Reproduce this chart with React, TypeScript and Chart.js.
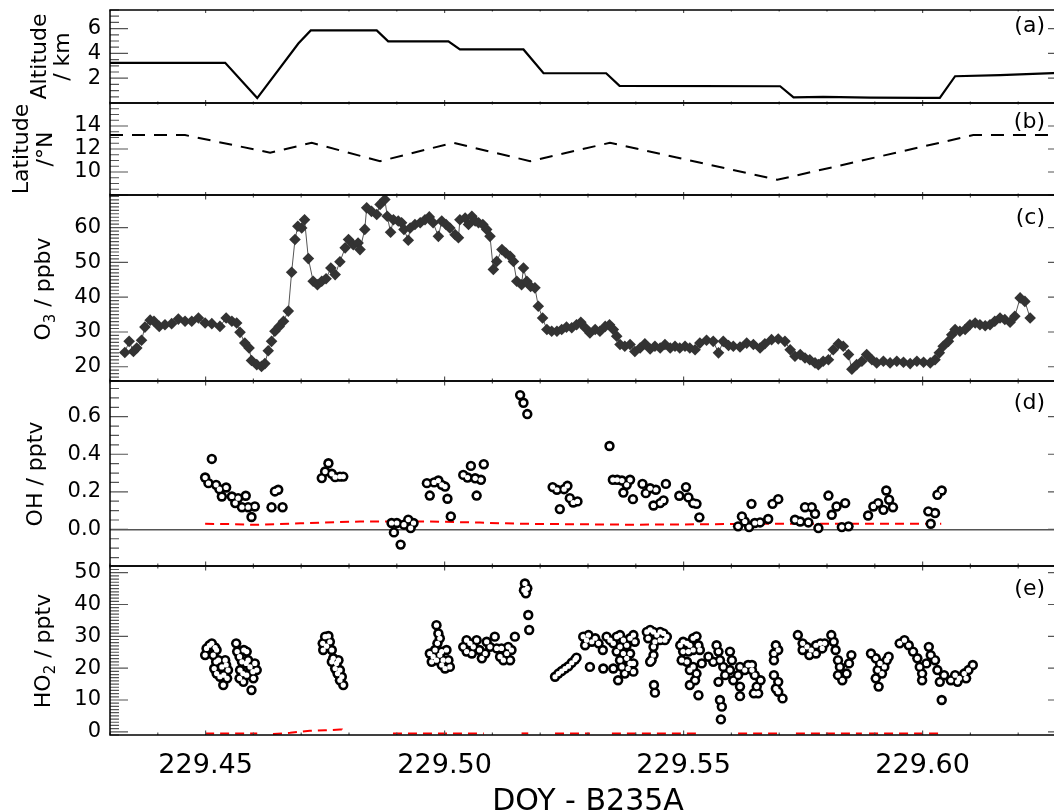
import { useEffect, useRef } from 'react';
import { Chart, registerables } from 'chart.js';

Chart.register(...registerables);

const FONT = "'DejaVu Sans', 'Liberation Sans', sans-serif";
const PAGE_W = 1054;
const PAGE_H = 812;
const CANVAS_W = 1080;
const PLOT_LEFT = 110;
const PLOT_RIGHT = 1066;

// Shared time axis (day of year)
const DOY_MIN = 229.43;
const DOY_MAX = 229.63;
const DOY_MINOR = 0.01;
const doyTickLabels = [229.45, 229.5, 229.55, 229.6];
const xAxisTitle = 'DOY - B235A';

// (a) aircraft altitude, km
const altDoy = [229.4300, 229.4541, 229.4608, 229.4694, 229.4720, 229.4858, 229.4882, 229.5008, 229.5032, 229.5165, 229.5207, 229.5338, 229.5366, 229.5702, 229.5730, 229.5792, 229.5827, 229.5890, 229.6001, 229.6036, 229.6068, 229.6162, 229.6300];
const altKm = [3.24, 3.24, 0.40, 4.80, 5.85, 5.85, 4.97, 4.97, 4.32, 4.32, 2.40, 2.40, 1.38, 1.35, 0.46, 0.50, 0.48, 0.43, 0.42, 0.42, 2.16, 2.25, 2.45];

// (b) latitude, degrees north
const latDoy = [229.4300, 229.4457, 229.4635, 229.4722, 229.4865, 229.5018, 229.5179, 229.5346, 229.5696, 229.6106, 229.6300];
const latDeg = [13.21, 13.21, 11.68, 12.54, 10.94, 12.54, 10.94, 12.54, 9.32, 13.21, 13.21];

// (c) ozone, ppbv  [doy, value]
const o3Series = [
  [229.4331, 24.1], [229.4340, 27.3], [229.4349, 24.4], [229.4356, 25.4], [229.4366, 27.6], [229.4373, 31.4], [229.4384, 33.4], [229.4392, 33.1],
  [229.4403, 31.6], [229.4415, 32.1], [229.4429, 32.4], [229.4443, 33.7], [229.4457, 33.1], [229.4471, 33.1], [229.4485, 34.0], [229.4499, 32.6],
  [229.4513, 32.4], [229.4530, 31.6], [229.4543, 34.0], [229.4555, 33.1], [229.4565, 32.6], [229.4572, 29.9], [229.4582, 26.8], [229.4591, 25.4],
  [229.4596, 21.8], [229.4607, 20.6], [229.4617, 20.1], [229.4624, 20.9], [229.4631, 24.6], [229.4638, 27.3], [229.4645, 30.2], [229.4654, 31.6],
  [229.4663, 33.1], [229.4673, 36.0], [229.4680, 47.2], [229.4687, 56.6], [229.4693, 60.4], [229.4701, 59.9], [229.4707, 62.3], [229.4715, 51.1],
  [229.4725, 44.6], [229.4734, 43.6], [229.4743, 44.6], [229.4752, 45.3], [229.4762, 48.4], [229.4771, 46.5], [229.4781, 50.2], [229.4792, 54.2],
  [229.4799, 56.6], [229.4809, 55.1], [229.4819, 55.6], [229.4823, 53.7], [229.4833, 59.5], [229.4837, 65.7], [229.4847, 64.7], [229.4858, 63.8],
  [229.4865, 66.7], [229.4875, 68.1], [229.4880, 63.3], [229.4887, 58.7], [229.4893, 62.3], [229.4903, 61.9], [229.4910, 61.4], [229.4915, 59.5],
  [229.4924, 56.4], [229.4928, 59.9], [229.4938, 60.9], [229.4949, 61.4], [229.4959, 62.3], [229.4968, 63.1], [229.4976, 61.4], [229.4987, 57.5],
  [229.4994, 61.9], [229.5003, 60.9], [229.5011, 59.9], [229.5022, 58.0], [229.5029, 57.1], [229.5032, 62.3], [229.5043, 62.8], [229.5050, 60.9],
  [229.5057, 63.3], [229.5064, 61.9], [229.5071, 61.4], [229.5080, 60.9], [229.5088, 59.5], [229.5095, 57.5], [229.5102, 48.0], [229.5109, 50.3],
  [229.5120, 53.7], [229.5128, 52.7], [229.5137, 51.8], [229.5144, 50.3], [229.5151, 44.6], [229.5161, 43.6], [229.5165, 48.4], [229.5172, 44.6],
  [229.5180, 43.1], [229.5189, 42.7], [229.5196, 37.4], [229.5205, 34.0], [229.5214, 30.7], [229.5224, 30.2], [229.5235, 30.2], [229.5245, 30.7],
  [229.5255, 31.4], [229.5266, 31.2], [229.5276, 32.1], [229.5285, 32.8], [229.5294, 31.2], [229.5304, 29.7], [229.5315, 30.7], [229.5325, 30.2],
  [229.5336, 31.6], [229.5345, 32.1], [229.5353, 30.7], [229.5360, 28.8], [229.5367, 26.4], [229.5377, 25.9], [229.5388, 26.4], [229.5398, 24.4],
  [229.5409, 25.4], [229.5419, 26.6], [229.5430, 25.1], [229.5440, 25.9], [229.5451, 25.4], [229.5461, 26.4], [229.5472, 25.4], [229.5482, 25.9],
  [229.5492, 25.4], [229.5503, 25.9], [229.5513, 25.4], [229.5524, 24.9], [229.5534, 26.8], [229.5548, 27.6], [229.5562, 27.3], [229.5573, 24.0],
  [229.5583, 27.3], [229.5594, 26.1], [229.5604, 25.9], [229.5618, 25.7], [229.5632, 26.8], [229.5646, 26.4], [229.5660, 25.4], [229.5670, 26.6],
  [229.5684, 27.8], [229.5698, 28.0], [229.5712, 27.3], [229.5723, 24.9], [229.5733, 23.0], [229.5744, 23.5], [229.5754, 22.5], [229.5764, 22.0],
  [229.5775, 21.1], [229.5782, 20.6], [229.5792, 21.6], [229.5803, 22.0], [229.5813, 24.9], [229.5824, 26.6], [229.5834, 25.9], [229.5845, 23.5],
  [229.5852, 19.3], [229.5862, 20.6], [229.5873, 21.6], [229.5883, 23.5], [229.5894, 22.0], [229.5904, 21.1], [229.5918, 21.6], [229.5932, 21.1],
  [229.5946, 21.6], [229.5960, 21.3], [229.5974, 20.9], [229.5988, 21.6], [229.6002, 21.3], [229.6016, 21.1], [229.6026, 22.0], [229.6035, 24.0],
  [229.6043, 25.9], [229.6054, 27.3], [229.6061, 29.2], [229.6068, 30.7], [229.6078, 30.2], [229.6089, 30.7], [229.6099, 32.1], [229.6110, 32.6],
  [229.6120, 32.1], [229.6131, 31.8], [229.6141, 32.1], [229.6151, 33.1], [229.6162, 34.0], [229.6172, 33.6], [229.6183, 32.8], [229.6193, 34.5],
  [229.6204, 39.8], [229.6214, 38.8], [229.6225, 34.0],
];

// (d) OH, pptv  [doy, value]
const ohSeries = [
  [229.4499, 0.276], [229.4506, 0.246], [229.4513, 0.375], [229.4522, 0.237], [229.4529, 0.214], [229.4534, 0.175], [229.4543, 0.223], [229.4555, 0.175],
  [229.4562, 0.140], [229.4568, 0.166], [229.4576, 0.118], [229.4584, 0.179], [229.4589, 0.118], [229.4596, 0.066], [229.4603, 0.122],
  [229.4638, 0.118], [229.4645, 0.202], [229.4652, 0.211], [229.4661, 0.118],
  [229.4743, 0.273], [229.4750, 0.308], [229.4757, 0.352], [229.4764, 0.296], [229.4771, 0.278], [229.4781, 0.281], [229.4788, 0.281],
  [229.4889, 0.034], [229.4894, -0.016], [229.4900, 0.034], [229.4908, -0.081], [229.4915, 0.025], [229.4924, 0.052], [229.4929, 0.007], [229.4935, 0.034],
  [229.4963, 0.246], [229.4969, 0.180], [229.4978, 0.250], [229.4987, 0.260], [229.4994, 0.237], [229.5001, 0.228], [229.5006, 0.163], [229.5013, 0.069],
  [229.5039, 0.290], [229.5048, 0.276], [229.5055, 0.338], [229.5064, 0.272], [229.5067, 0.180], [229.5076, 0.264], [229.5082, 0.347],
  [229.5158, 0.715], [229.5165, 0.674], [229.5173, 0.614],
  [229.5226, 0.225], [229.5235, 0.211], [229.5241, 0.108], [229.5250, 0.214], [229.5257, 0.232], [229.5262, 0.166], [229.5269, 0.143], [229.5278, 0.149],
  [229.5345, 0.444], [229.5352, 0.264], [229.5361, 0.264], [229.5371, 0.260], [229.5374, 0.196], [229.5381, 0.237], [229.5388, 0.264], [229.5394, 0.161],
  [229.5414, 0.242], [229.5421, 0.193], [229.5430, 0.219], [229.5437, 0.127], [229.5442, 0.211], [229.5451, 0.140], [229.5458, 0.154], [229.5463, 0.242],
  [229.5491, 0.179], [229.5505, 0.225], [229.5510, 0.170], [229.5520, 0.140], [229.5527, 0.136], [229.5533, 0.064],
  [229.5614, 0.016], [229.5622, 0.069], [229.5628, 0.042], [229.5637, 0.012], [229.5642, 0.136], [229.5649, 0.034], [229.5660, 0.037], [229.5677, 0.055],
  [229.5686, 0.136], [229.5698, 0.161],
  [229.5733, 0.051], [229.5744, 0.042], [229.5754, 0.118], [229.5761, 0.037], [229.5768, 0.118], [229.5775, 0.083], [229.5782, 0.007],
  [229.5803, 0.180], [229.5810, 0.078], [229.5820, 0.122], [229.5831, 0.012], [229.5838, 0.140], [229.5845, 0.016],
  [229.5886, 0.074], [229.5897, 0.122], [229.5907, 0.140], [229.5918, 0.104], [229.5924, 0.207], [229.5930, 0.158], [229.5938, 0.118],
  [229.6012, 0.096], [229.6017, 0.030], [229.6026, 0.087], [229.6031, 0.184], [229.6040, 0.207],
];

// (d) OH detection limit, pptv
const ohLimit = [
  [229.4499, 0.030], [229.4551, 0.028], [229.4603, 0.024], [229.4698, 0.032], [229.4823, 0.042], [229.4969, 0.042], [229.5074, 0.036],
  [229.5158, 0.030], [229.5241, 0.028], [229.5388, 0.025], [229.5534, 0.027], [229.5660, 0.030], [229.6039, 0.030],
];

// (e) HO2, pptv  [doy, value]
const ho2Series = [
  [229.4499, 24.1], [229.4502, 26.2], [229.4508, 27.2], [229.4513, 27.8], [229.4516, 24.1], [229.4518, 19.9], [229.4520, 26.5], [229.4522, 22.0],
  [229.4523, 25.7], [229.4523, 18.3], [229.4527, 22.5], [229.4530, 17.3], [229.4534, 20.4], [229.4537, 14.7], [229.4538, 17.8], [229.4541, 22.5],
  [229.4543, 21.0], [229.4545, 16.8], [229.4547, 19.4],
  [229.4564, 27.8], [229.4566, 25.2], [229.4571, 23.6], [229.4571, 16.8], [229.4572, 19.4], [229.4576, 22.0], [229.4578, 18.3], [229.4579, 15.7],
  [229.4580, 25.7], [229.4585, 21.5], [229.4586, 25.2], [229.4586, 17.8], [229.4589, 22.5], [229.4593, 20.4], [229.4596, 13.1], [229.4599, 18.9],
  [229.4600, 16.8], [229.4603, 21.5], [229.4607, 19.4],
  [229.4745, 27.8], [229.4746, 25.7], [229.4750, 29.9], [229.4753, 26.9], [229.4757, 30.1], [229.4760, 28.3], [229.4764, 25.7], [229.4764, 22.0],
  [229.4767, 23.1], [229.4771, 19.9], [229.4774, 21.5], [229.4776, 18.3], [229.4778, 22.5], [229.4781, 19.4], [229.4781, 16.2], [229.4785, 17.3],
  [229.4788, 14.7],
  [229.4969, 24.6], [229.4973, 22.0], [229.4976, 23.6], [229.4980, 25.7], [229.4983, 33.5], [229.4983, 22.5], [229.4985, 27.8], [229.4987, 30.9],
  [229.4990, 29.4], [229.4990, 24.1], [229.4994, 25.2], [229.4994, 21.0], [229.4997, 22.5], [229.5001, 19.9], [229.5004, 25.7], [229.5008, 22.5],
  [229.5011, 20.4],
  [229.5039, 26.7], [229.5046, 28.8], [229.5046, 25.2], [229.5053, 27.8], [229.5057, 24.6], [229.5060, 26.7], [229.5067, 28.8], [229.5073, 25.7],
  [229.5078, 23.1], [229.5085, 24.6], [229.5088, 28.3], [229.5095, 26.7], [229.5105, 29.9], [229.5109, 26.2], [229.5116, 23.6], [229.5119, 26.2],
  [229.5123, 22.5], [229.5130, 24.6], [229.5133, 26.7], [229.5137, 22.5], [229.5140, 25.7], [229.5147, 29.9],
  [229.5166, 44.5], [229.5168, 46.6], [229.5170, 43.5], [229.5173, 45.1], [229.5175, 36.7], [229.5177, 32.0],
  [229.5231, 17.3], [229.5238, 18.3], [229.5245, 19.1], [229.5252, 19.9], [229.5259, 20.6], [229.5266, 21.7], [229.5273, 22.7], [229.5276, 23.3],
  [229.5290, 29.9], [229.5294, 27.2], [229.5297, 28.8], [229.5301, 30.4], [229.5304, 20.4], [229.5308, 28.3], [229.5315, 29.4], [229.5322, 27.8],
  [229.5331, 25.7], [229.5332, 19.9], [229.5339, 29.9], [229.5346, 28.8], [229.5353, 27.8], [229.5353, 19.9], [229.5360, 29.9], [229.5360, 25.2],
  [229.5363, 16.2], [229.5367, 30.4], [229.5367, 26.7], [229.5367, 22.5], [229.5371, 20.4], [229.5374, 28.8], [229.5374, 24.6], [229.5377, 18.3],
  [229.5381, 27.2], [229.5381, 23.1], [229.5384, 19.9], [229.5388, 29.4], [229.5388, 24.6], [229.5388, 21.5], [229.5395, 30.4], [229.5395, 21.5],
  [229.5395, 18.9], [229.5398, 28.3],
  [229.5423, 31.4], [229.5426, 29.4], [229.5430, 32.0], [229.5430, 22.0], [229.5433, 22.5], [229.5437, 31.4], [229.5437, 26.7], [229.5437, 24.1],
  [229.5438, 14.7], [229.5440, 28.3], [229.5440, 12.3], [229.5444, 30.4], [229.5451, 31.4], [229.5451, 28.8], [229.5458, 30.9], [229.5461, 28.8],
  [229.5465, 29.9],
  [229.5493, 27.2], [229.5496, 22.5], [229.5499, 28.3], [229.5499, 25.2], [229.5507, 27.8], [229.5507, 22.0], [229.5510, 25.2], [229.5513, 27.2],
  [229.5513, 19.4], [229.5513, 14.7], [229.5520, 29.4], [229.5520, 25.7], [229.5520, 20.4], [229.5524, 16.2], [229.5527, 30.0], [229.5527, 18.3],
  [229.5531, 27.2], [229.5531, 11.5], [229.5534, 25.7], [229.5538, 21.5],
  [229.5552, 23.6], [229.5562, 22.0], [229.5569, 27.2], [229.5573, 25.2], [229.5573, 15.7], [229.5576, 22.5], [229.5576, 10.0], [229.5578, 3.9],
  [229.5580, 7.9], [229.5583, 20.4], [229.5587, 17.8], [229.5597, 25.2], [229.5597, 19.4], [229.5601, 22.5], [229.5604, 16.2], [229.5614, 17.8],
  [229.5618, 20.4], [229.5618, 14.2], [229.5618, 11.2], [229.5628, 19.4], [229.5635, 21.0], [229.5643, 19.4], [229.5643, 21.0], [229.5647, 12.1],
  [229.5649, 17.8], [229.5653, 14.2], [229.5656, 12.1], [229.5661, 16.2],
  [229.5689, 24.6], [229.5689, 22.5], [229.5689, 17.8], [229.5693, 27.2], [229.5693, 13.6], [229.5698, 25.7], [229.5698, 15.7], [229.5698, 12.6],
  [229.5707, 10.5],
  [229.5739, 30.4], [229.5749, 27.8], [229.5749, 25.7], [229.5758, 26.7], [229.5763, 24.1], [229.5767, 25.7], [229.5777, 27.2], [229.5777, 24.6],
  [229.5786, 27.8], [229.5790, 26.2], [229.5795, 27.8],
  [229.5809, 30.4], [229.5814, 28.3], [229.5818, 25.7], [229.5823, 22.5], [229.5823, 17.8], [229.5827, 20.4], [229.5832, 16.2], [229.5841, 18.3],
  [229.5846, 21.5], [229.5851, 24.1],
  [229.5892, 24.6], [229.5902, 23.1], [229.5902, 16.8], [229.5906, 19.4], [229.5908, 14.2], [229.5911, 21.5], [229.5915, 18.3], [229.5920, 20.4],
  [229.5925, 22.5], [229.5929, 23.6],
  [229.5952, 27.8], [229.5962, 28.8], [229.5971, 27.2], [229.5980, 25.2], [229.5989, 23.1], [229.5994, 20.4], [229.5999, 18.3], [229.5999, 16.2],
  [229.6008, 21.5], [229.6013, 26.7], [229.6017, 24.1], [229.6026, 22.5], [229.6031, 19.4], [229.6036, 15.7], [229.6040, 10.0], [229.6045, 17.8],
  [229.6059, 16.2], [229.6068, 17.8], [229.6073, 15.7], [229.6077, 16.8], [229.6087, 18.3], [229.6091, 16.8], [229.6096, 19.4], [229.6105, 21.0],
];

// (e) HO2 detection limit, pptv, one list per measurement segment
const ho2LimitSegments = [
  [[229.4499, -0.5], [229.4608, -0.5]],
  [[229.4641, -0.7], [229.4677, -0.3], [229.4718, 0.3], [229.4750, 0.5], [229.4781, 0.7], [229.4785, 0.7], [229.4785, -0.6]],
  [[229.4892, -0.5], [229.5082, -0.5]],
  [[229.5161, -0.5], [229.5175, -0.5]],
  [[229.5231, -0.5], [229.5304, -0.5]],
  [[229.5350, -0.5], [229.5526, -0.5]],
  [[229.5614, -0.5], [229.5698, -0.5]],
  [[229.5735, -0.5], [229.5873, -0.5]],
  [[229.5888, -0.5], [229.6041, -0.5]],
];

type Part = { text: string; sub?: boolean };
type TitleLine = { parts: Part[]; x: number };
type PanelSpec = {
  id: string;
  top: number;
  bottom: number;
  yMin: number;
  yMax: number;
  yMajor: number;
  yMinor: number;
  yTicks: number[];
  yDigits: number;
  title: TitleLine[];
  titleY: number;
  tag: string;
  tagY: number;
  xTickLen: [number, number];
  zeroLine?: boolean;
  showX?: boolean;
};

const panels: PanelSpec[] = [
  {
    id: 'a', top: 10, bottom: 103, yMin: 0, yMax: 7.5, yMajor: 2, yMinor: 0.5, yTicks: [2, 4, 6], yDigits: 0,
    title: [{ parts: [{ text: 'Altitude' }], x: 46 }, { parts: [{ text: '/ km' }], x: 69 }], titleY: 56.5,
    tag: '(a)', tagY: 26, xTickLen: [3, 1.5],
  },
  {
    id: 'b', top: 103, bottom: 195, yMin: 8, yMax: 16, yMajor: 2, yMinor: 0.5, yTicks: [10, 12, 14], yDigits: 0,
    title: [{ parts: [{ text: 'Latitude' }], x: 28 }, { parts: [{ text: '/°N' }], x: 52 }], titleY: 149,
    tag: '(b)', tagY: 122.5, xTickLen: [3, 1.5],
  },
  {
    id: 'c', top: 195, bottom: 381, yMin: 15.9, yMax: 69.4, yMajor: 10, yMinor: 1, yTicks: [20, 30, 40, 50, 60], yDigits: 0,
    title: [{ parts: [{ text: 'O' }, { text: '3', sub: true }, { text: ' / ppbv' }], x: 50 }], titleY: 289,
    tag: '(c)', tagY: 218.5, xTickLen: [4.5, 2.5],
  },
  {
    id: 'd', top: 381, bottom: 566, yMin: -0.195, yMax: 0.79, yMajor: 0.2, yMinor: 0.05, yTicks: [0, 0.2, 0.4, 0.6], yDigits: 1,
    title: [{ parts: [{ text: 'OH / pptv' }], x: 42 }], titleY: 474,
    tag: '(d)', tagY: 403.5, xTickLen: [4.5, 2.5], zeroLine: true,
  },
  {
    id: 'e', top: 566, bottom: 735, yMin: -1, yMax: 52.1, yMajor: 10, yMinor: 1, yTicks: [0, 10, 20, 30, 40, 50], yDigits: 0,
    title: [{ parts: [{ text: 'HO' }, { text: '2', sub: true }, { text: ' / pptv' }], x: 50 }], titleY: 651,
    tag: '(e)', tagY: 589, xTickLen: [4.5, 2.5], showX: true,
  },
];

const PAD = 24;

const toPoints = (rows: number[][]) => rows.map(([x, y]) => ({ x, y }));

function datasetsFor(id: string): any[] {
  // open circles: a black disc with a white centre drawn over all discs
  const ringOuter = (rows: number[][]) => ({
    data: toPoints(rows), showLine: false, pointStyle: 'circle', pointRadius: 5.2,
    pointBackgroundColor: '#000', pointBorderWidth: 0, order: 2,
  });
  const ringInner = (rows: number[][]) => ({
    data: toPoints(rows), showLine: false, pointStyle: 'circle', pointRadius: 2.6,
    pointBackgroundColor: '#fff', pointBorderWidth: 0, order: 1,
  });
  const limitLine = (rows: number[][]) => ({
    data: toPoints(rows), showLine: true, borderColor: '#ff0000', borderWidth: 2,
    borderDash: [9, 6], pointRadius: 0, order: 3,
  });
  switch (id) {
    case 'a':
      return [{
        data: altDoy.map((x, i) => ({ x, y: altKm[i] })), showLine: true,
        borderColor: '#000', borderWidth: 2.2, pointRadius: 0,
      }];
    case 'b':
      return [{
        data: latDoy.map((x, i) => ({ x, y: latDeg[i] })), showLine: true,
        borderColor: '#000', borderWidth: 2, borderDash: [13, 9], pointRadius: 0,
      }];
    case 'c':
      return [{
        data: toPoints(o3Series), showLine: true, borderColor: '#555', borderWidth: 1,
        pointStyle: 'rectRot', pointRadius: 5.8, pointBackgroundColor: '#333',
        pointBorderColor: '#333', pointBorderWidth: 0,
      }];
    case 'd':
      return [limitLine(ohLimit), ringOuter(ohSeries), ringInner(ohSeries)];
    default:
      return [...ho2LimitSegments.map(limitLine), ringOuter(ho2Series), ringInner(ho2Series)];
  }
}

function drawRotatedLine(ctx: CanvasRenderingContext2D, line: TitleLine, yCenter: number) {
  ctx.save();
  ctx.translate(line.x, yCenter);
  ctx.rotate(-Math.PI / 2);
  ctx.textAlign = 'left';
  ctx.textBaseline = 'alphabetic';
  ctx.fillStyle = '#000';
  const fontOf = (p: Part) => `${p.sub ? 15 : 22}px ${FONT}`;
  const widths = line.parts.map((p) => {
    ctx.font = fontOf(p);
    return ctx.measureText(p.text).width;
  });
  let x = -widths.reduce((s, w) => s + w, 0) / 2;
  line.parts.forEach((p, i) => {
    ctx.font = fontOf(p);
    ctx.fillText(p.text, x, p.sub ? 5 : 0);
    x += widths[i];
  });
  ctx.restore();
}

function framePlugin(spec: PanelSpec, canvasTop: number) {
  return {
    id: 'panelFrame',
    afterDraw(chart: any) {
      const { ctx, chartArea } = chart;
      const { left, right, top, bottom } = chartArea;
      const ys = chart.scales.y;
      const xs = chart.scales.x;
      ctx.save();

      // inward tick marks on all four sides
      ctx.strokeStyle = '#555';
      ctx.lineWidth = 1.2;
      ctx.beginPath();
      const ratio = Math.round(spec.yMajor / spec.yMinor);
      const i0 = Math.ceil(spec.yMin / spec.yMinor - 1e-6);
      const i1 = Math.floor(spec.yMax / spec.yMinor + 1e-6);
      for (let i = i0; i <= i1; i++) {
        const p = ys.getPixelForValue(i * spec.yMinor);
        const len = i % ratio === 0 ? 18 : 9;
        ctx.moveTo(left, p);
        ctx.lineTo(left + len, p);
        ctx.moveTo(right, p);
        ctx.lineTo(right - len, p);
      }
      const j0 = Math.ceil(DOY_MIN / DOY_MINOR - 1e-6);
      const j1 = Math.floor(DOY_MAX / DOY_MINOR + 1e-6);
      for (let j = j0; j <= j1; j++) {
        const p = xs.getPixelForValue(j * DOY_MINOR);
        const len = j % 5 === 0 ? spec.xTickLen[0] : spec.xTickLen[1];
        ctx.moveTo(p, top);
        ctx.lineTo(p, top + len);
        ctx.moveTo(p, bottom);
        ctx.lineTo(p, bottom - len);
      }
      ctx.stroke();

      // plot frame
      ctx.strokeStyle = '#000';
      ctx.lineWidth = 1.5;
      ctx.strokeRect(left, top, right - left, bottom - top);

      // y-axis title
      spec.title.forEach((line) => drawRotatedLine(ctx, line, spec.titleY - canvasTop));

      // panel tag
      ctx.fillStyle = '#000';
      ctx.font = `22px ${FONT}`;
      ctx.textAlign = 'right';
      ctx.textBaseline = 'middle';
      ctx.fillText(spec.tag, 1045, spec.tagY - canvasTop);

      if (spec.showX) {
        ctx.font = `30px ${FONT}`;
        ctx.textAlign = 'center';
        ctx.textBaseline = 'alphabetic';
        ctx.fillText(xAxisTitle, (left + right) / 2, 809.5 - canvasTop);
      }
      ctx.restore();
    },
  };
}

function Panel({ spec }: { spec: PanelSpec }) {
  const ref = useRef<HTMLCanvasElement>(null);
  const canvasTop = spec.top - PAD;
  const canvasH = spec.showX ? PAGE_H - canvasTop : spec.bottom - spec.top + 2 * PAD;
  const xAxisH = spec.showX ? canvasH - PAD - (spec.bottom - spec.top) : 0;

  useEffect(() => {
    if (!ref.current) return;
    const chart = new Chart(ref.current, {
      type: 'scatter',
      data: { datasets: datasetsFor(spec.id) },
      options: {
        responsive: false,
        animation: false,
        events: [],
        layout: { padding: { left: 0, right: CANVAS_W - PLOT_RIGHT, top: PAD, bottom: spec.showX ? 0 : PAD } },
        plugins: { legend: { display: false }, tooltip: { enabled: false } },
        scales: {
          x: {
            type: 'linear',
            min: DOY_MIN,
            max: DOY_MAX,
            display: !!spec.showX,
            position: 'bottom',
            afterBuildTicks: (s: any) => { s.ticks = doyTickLabels.map((v) => ({ value: v })); },
            afterFit: (s: any) => { s.height = xAxisH; },
            grid: { display: false, drawTicks: false },
            border: { display: false },
            ticks: {
              autoSkip: false, maxRotation: 0, padding: 15, color: '#000',
              font: { family: FONT, size: 27 },
              callback: (v: any) => Number(v).toFixed(2),
            },
          },
          y: {
            type: 'linear',
            min: spec.yMin,
            max: spec.yMax,
            position: 'left',
            afterBuildTicks: (s: any) => { s.ticks = spec.yTicks.map((v) => ({ value: v })); },
            afterFit: (s: any) => { s.width = PLOT_LEFT; },
            grid: {
              display: !!spec.zeroLine,
              drawTicks: false,
              lineWidth: 1.5,
              color: (c: any) => (c.tick && c.tick.value === 0 ? '#555' : 'rgba(0,0,0,0)'),
            },
            border: { display: false },
            ticks: {
              padding: 9, color: '#000',
              font: { family: FONT, size: 21 },
              callback: (v: any) => Number(v).toFixed(spec.yDigits),
            },
          },
        },
      },
      plugins: [framePlugin(spec, canvasTop)],
    } as any);
    return () => chart.destroy();
  }, [spec, canvasTop, xAxisH]);

  return (
    <canvas
      ref={ref}
      width={CANVAS_W}
      height={canvasH}
      style={{ position: 'absolute', left: 0, top: canvasTop, width: CANVAS_W, height: canvasH }}
    />
  );
}

export default function App() {
  return (
    <div
      style={{
        position: 'absolute', left: 0, top: 0, width: PAGE_W, height: PAGE_H,
        overflow: 'hidden', background: '#fff',
      }}
    >
      {panels.map((p) => (
        <Panel key={p.id} spec={p} />
      ))}
    </div>
  );
}
